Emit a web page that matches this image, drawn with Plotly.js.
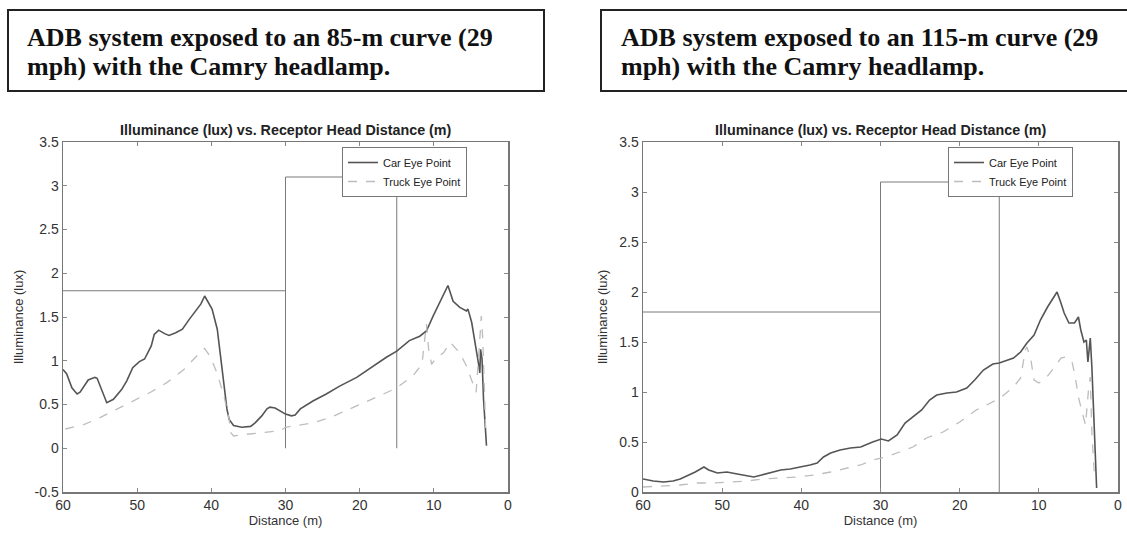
<!DOCTYPE html>
<html>
<head>
<meta charset="utf-8">
<script src="https://cdn.plot.ly/plotly-3.0.1.min.js"></script>
<style>html,body{margin:0;padding:0;background:#fff;}#chart{width:1127px;height:535px;}</style>
</head>
<body>
<div id="chart"></div>
<script>
// ---------- Data ----------
const panelTitleLines = [
  ["ADB system exposed to an 85-m curve (29", "mph) with the Camry headlamp."],
  ["ADB system exposed to an 115-m curve (29", "mph) with the Camry headlamp."]
];
const plotTitle = "Illuminance (lux) vs. Receptor Head Distance (m)";
const seriesNames = ["Car Eye Point", "Truck Eye Point"];

// Left panel (85-m curve)
const carLeftX = [60, 59.5, 58.8, 58.1, 57.7, 56.6, 55.7, 55.4, 54.1, 53.2, 52.1, 51.4, 50.6, 49.7, 49.0, 48.1, 47.7, 47.1, 46.3, 45.7, 44.8, 43.9, 43.0, 42.1, 41.4, 40.9, 40.5, 39.9, 39.2, 38.8, 38.3, 37.9, 37.6, 37.0, 35.9, 34.7, 34.1, 33.2, 32.5, 32.1, 31.4, 30.7, 30.0, 29.2, 28.7, 28.0, 26.3, 24.5, 22.7, 20.4, 18.2, 16.4, 15.0, 13.3, 11.9, 11.0, 10.1, 9.2, 8.1, 7.4, 6.5, 5.6, 5.4, 4.9, 4.5, 4.0, 3.8, 3.7, 3.5, 3.3, 2.9];
const carLeftY = [0.90, 0.85, 0.69, 0.62, 0.64, 0.78, 0.81, 0.80, 0.52, 0.56, 0.67, 0.77, 0.92, 0.99, 1.02, 1.17, 1.30, 1.35, 1.31, 1.29, 1.32, 1.36, 1.47, 1.57, 1.65, 1.74, 1.68, 1.59, 1.36, 1.06, 0.71, 0.45, 0.33, 0.26, 0.24, 0.25, 0.29, 0.37, 0.45, 0.47, 0.46, 0.42, 0.39, 0.37, 0.38, 0.45, 0.54, 0.62, 0.71, 0.81, 0.94, 1.04, 1.11, 1.23, 1.28, 1.34, 1.51, 1.66, 1.86, 1.68, 1.61, 1.57, 1.59, 1.44, 1.25, 0.98, 0.86, 1.13, 1.02, 0.56, 0.03];
const truckLeftX = [59.7, 57.2, 55.0, 52.7, 50.5, 48.2, 46.0, 43.7, 41.9, 40.9, 40.1, 39.2, 38.3, 37.6, 37.4, 37.0, 35.2, 32.5, 30.7, 30.0, 26.3, 24.0, 21.8, 19.5, 17.3, 15.0, 12.8, 11.6, 11.3, 11.0, 10.7, 10.3, 9.6, 8.7, 7.8, 7.4, 6.5, 5.6, 4.9, 4.3, 3.8, 3.6, 3.4, 3.0];
const truckLeftY = [0.22, 0.27, 0.35, 0.45, 0.54, 0.64, 0.75, 0.90, 1.06, 1.14, 1.04, 0.85, 0.60, 0.33, 0.18, 0.14, 0.16, 0.18, 0.20, 0.24, 0.29, 0.35, 0.43, 0.52, 0.60, 0.69, 0.83, 0.96, 1.21, 1.42, 1.13, 0.96, 1.04, 1.09, 1.21, 1.17, 1.09, 0.94, 0.79, 0.64, 1.25, 1.51, 1.25, 0.18];

// Right panel (115-m curve)
const carRightX = [60, 58.7, 57.4, 56.2, 55.3, 54.5, 53.4, 52.3, 51.7, 50.6, 49.4, 48.1, 46.9, 46.0, 45.0, 43.9, 42.6, 41.4, 40.1, 38.9, 38.0, 37.2, 36.3, 35.1, 33.8, 32.5, 31.0, 29.9, 29.0, 27.9, 26.9, 25.9, 24.8, 23.8, 22.9, 21.6, 20.4, 19.1, 18.1, 17.0, 15.8, 15.0, 14.0, 13.2, 12.3, 11.5, 10.6, 9.8, 8.9, 8.3, 7.7, 7.25, 6.8, 6.2, 5.5, 5.0, 4.7, 4.3, 4.0, 3.8, 3.5, 3.3, 3.0, 2.7];
const carRightY = [0.13, 0.11, 0.10, 0.11, 0.13, 0.16, 0.20, 0.25, 0.22, 0.19, 0.20, 0.18, 0.16, 0.15, 0.17, 0.19, 0.22, 0.23, 0.25, 0.27, 0.29, 0.35, 0.39, 0.42, 0.44, 0.45, 0.50, 0.53, 0.51, 0.57, 0.69, 0.75, 0.82, 0.92, 0.97, 0.99, 1.00, 1.04, 1.12, 1.22, 1.28, 1.29, 1.32, 1.34, 1.40, 1.49, 1.57, 1.72, 1.85, 1.92, 2.00, 1.90, 1.79, 1.69, 1.69, 1.75, 1.62, 1.50, 1.52, 1.30, 1.54, 1.25, 0.59, 0.04];
const truckRightX = [60, 57.4, 55.3, 53.2, 51.1, 49.0, 46.9, 44.8, 42.6, 40.5, 38.4, 36.3, 34.2, 32.5, 31.0, 29.3, 27.6, 25.9, 24.2, 22.1, 20.0, 17.9, 16.6, 14.9, 13.2, 12.3, 11.7, 11.5, 11.0, 10.6, 10.0, 9.1, 8.1, 7.2, 6.6, 5.8, 5.4, 5.0, 4.5, 4.1, 3.7, 3.5, 3.3, 3.0];
const truckRightY = [0.05, 0.06, 0.07, 0.09, 0.09, 0.10, 0.11, 0.13, 0.14, 0.15, 0.17, 0.20, 0.24, 0.27, 0.32, 0.35, 0.40, 0.45, 0.54, 0.60, 0.70, 0.82, 0.87, 0.94, 1.05, 1.14, 1.42, 1.45, 1.32, 1.12, 1.09, 1.14, 1.24, 1.34, 1.35, 1.30, 1.15, 0.95, 0.79, 0.67, 1.05, 1.15, 0.59, 0.19];

// Threshold outline (same in both panels)
const limitX = [60, 30, null, 30, 30, 15, 15];
const limitY = [1.8, 1.8, null, 0, 3.1, 3.1, 0];

// Axis ticks
const xTicks = [60, 50, 40, 30, 20, 10, 0];
const yTicksLeft = [-0.5, 0, 0.5, 1, 1.5, 2, 2.5, 3, 3.5];
const yTicksRight = [0, 0.5, 1, 1.5, 2, 2.5, 3, 3.5];

// ---------- Styling ----------
const W = 1127, H = 535;
const px = v => v / W;
const py = v => 1 - v / H;
const sans = "Liberation Sans, Arial, sans-serif";
const tickFont = {family: sans, size: 14, color: "#333"};
const titleFont = {family: sans, size: 13, color: "#333"};
const carLine = {color: "#555", width: 1.6};
const truckLine = {color: "#bdbdbd", width: 1.3, dash: "dash"};
const limitLine = {color: "#7a7a7a", width: 1};

const traces = [
  {x: limitX, y: limitY, xaxis: "x", yaxis: "y", mode: "lines", line: limitLine, showlegend: false, hoverinfo: "skip"},
  {x: carLeftX, y: carLeftY, xaxis: "x", yaxis: "y", mode: "lines", name: seriesNames[0], line: carLine, legend: "legend"},
  {x: truckLeftX, y: truckLeftY, xaxis: "x", yaxis: "y", mode: "lines", name: seriesNames[1], line: truckLine, legend: "legend"},
  {x: limitX, y: limitY, xaxis: "x2", yaxis: "y2", mode: "lines", line: limitLine, showlegend: false, hoverinfo: "skip"},
  {x: carRightX, y: carRightY, xaxis: "x2", yaxis: "y2", mode: "lines", name: seriesNames[0], line: carLine, legend: "legend2"},
  {x: truckRightX, y: truckRightY, xaxis: "x2", yaxis: "y2", mode: "lines", name: seriesNames[1], line: truckLine, legend: "legend2"}
];

function xAxis(domain, anchor) {
  return {
    domain: domain, anchor: anchor, range: [60, 0], tickvals: xTicks, ticktext: xTicks.map(String),
    showline: true, mirror: "ticks", linecolor: "#777", linewidth: 1.5,
    ticks: "inside", ticklen: 4, tickcolor: "#888", showgrid: false, zeroline: false,
    tickfont: tickFont,
    title: {text: "Distance (m)", font: titleFont, standoff: 3}
  };
}
function yAxis(domain, anchor, range, ticks) {
  return {
    domain: domain, anchor: anchor, range: range, tickvals: ticks, ticktext: ticks.map(String),
    showline: true, mirror: "ticks", linecolor: "#777", linewidth: 1.5,
    ticks: "inside", ticklen: 4, tickcolor: "#888", showgrid: false, zeroline: false,
    tickfont: tickFont,
    title: {text: "Illuminance (lux)", font: titleFont, standoff: 8}
  };
}
const yDom = [py(492), py(142)];
const legendStyle = (xr) => ({
  x: px(xr), y: py(147), xanchor: "right", yanchor: "top",
  bgcolor: "#fff", bordercolor: "#777", borderwidth: 1,
  font: {family: sans, size: 11, color: "#222"},
  tracegroupgap: 0, itemwidth: 30
});

const serif = "Liberation Serif, Times New Roman, serif";
const headFont = {family: serif, size: 26, color: "#111"};
function headAnn(x, yc, txt) {
  return {xref: "paper", yref: "paper", x: px(x), y: py(yc), xanchor: "left", yanchor: "middle", align: "left",
          showarrow: false, text: "<b>" + txt + "</b>", font: headFont};
}

const layout = {
  width: W, height: H,
  margin: {l: 0, r: 0, t: 0, b: 0},
  paper_bgcolor: "#fff", plot_bgcolor: "#fff",
  showlegend: true,
  xaxis: xAxis([px(63), px(508)], "y"),
  yaxis: yAxis(yDom, "x", [-0.5, 3.5], yTicksLeft),
  xaxis2: xAxis([px(643), px(1118)], "y2"),
  yaxis2: yAxis(yDom, "x2", [0, 3.5], yTicksRight),
  legend: legendStyle(467),
  legend2: legendStyle(1073),
  shapes: [
    {type: "rect", xref: "paper", yref: "paper", x0: px(8), x1: px(544), y0: py(10), y1: py(91), line: {color: "#222", width: 2}},
    {type: "rect", xref: "paper", yref: "paper", x0: px(601), x1: px(1140), y0: py(10), y1: py(91), line: {color: "#222", width: 2}}
  ],
  annotations: [
    headAnn(25, 38, panelTitleLines[0][0]),
    headAnn(25, 66, panelTitleLines[0][1]),
    headAnn(619, 38, panelTitleLines[1][0]),
    headAnn(619, 66, panelTitleLines[1][1]),
    {xref: "paper", yref: "paper", x: px(285.5), y: py(130), xanchor: "center", yanchor: "middle", showarrow: false,
     text: "<b>" + plotTitle + "</b>", font: {family: sans, size: 14.3, color: "#222"}},
    {xref: "paper", yref: "paper", x: px(880.5), y: py(130), xanchor: "center", yanchor: "middle", showarrow: false,
     text: "<b>" + plotTitle + "</b>", font: {family: sans, size: 14.3, color: "#222"}}
  ]
};

Plotly.newPlot("chart", traces, layout, {displayModeBar: false, staticPlot: true});
</script>
</body>
</html>
